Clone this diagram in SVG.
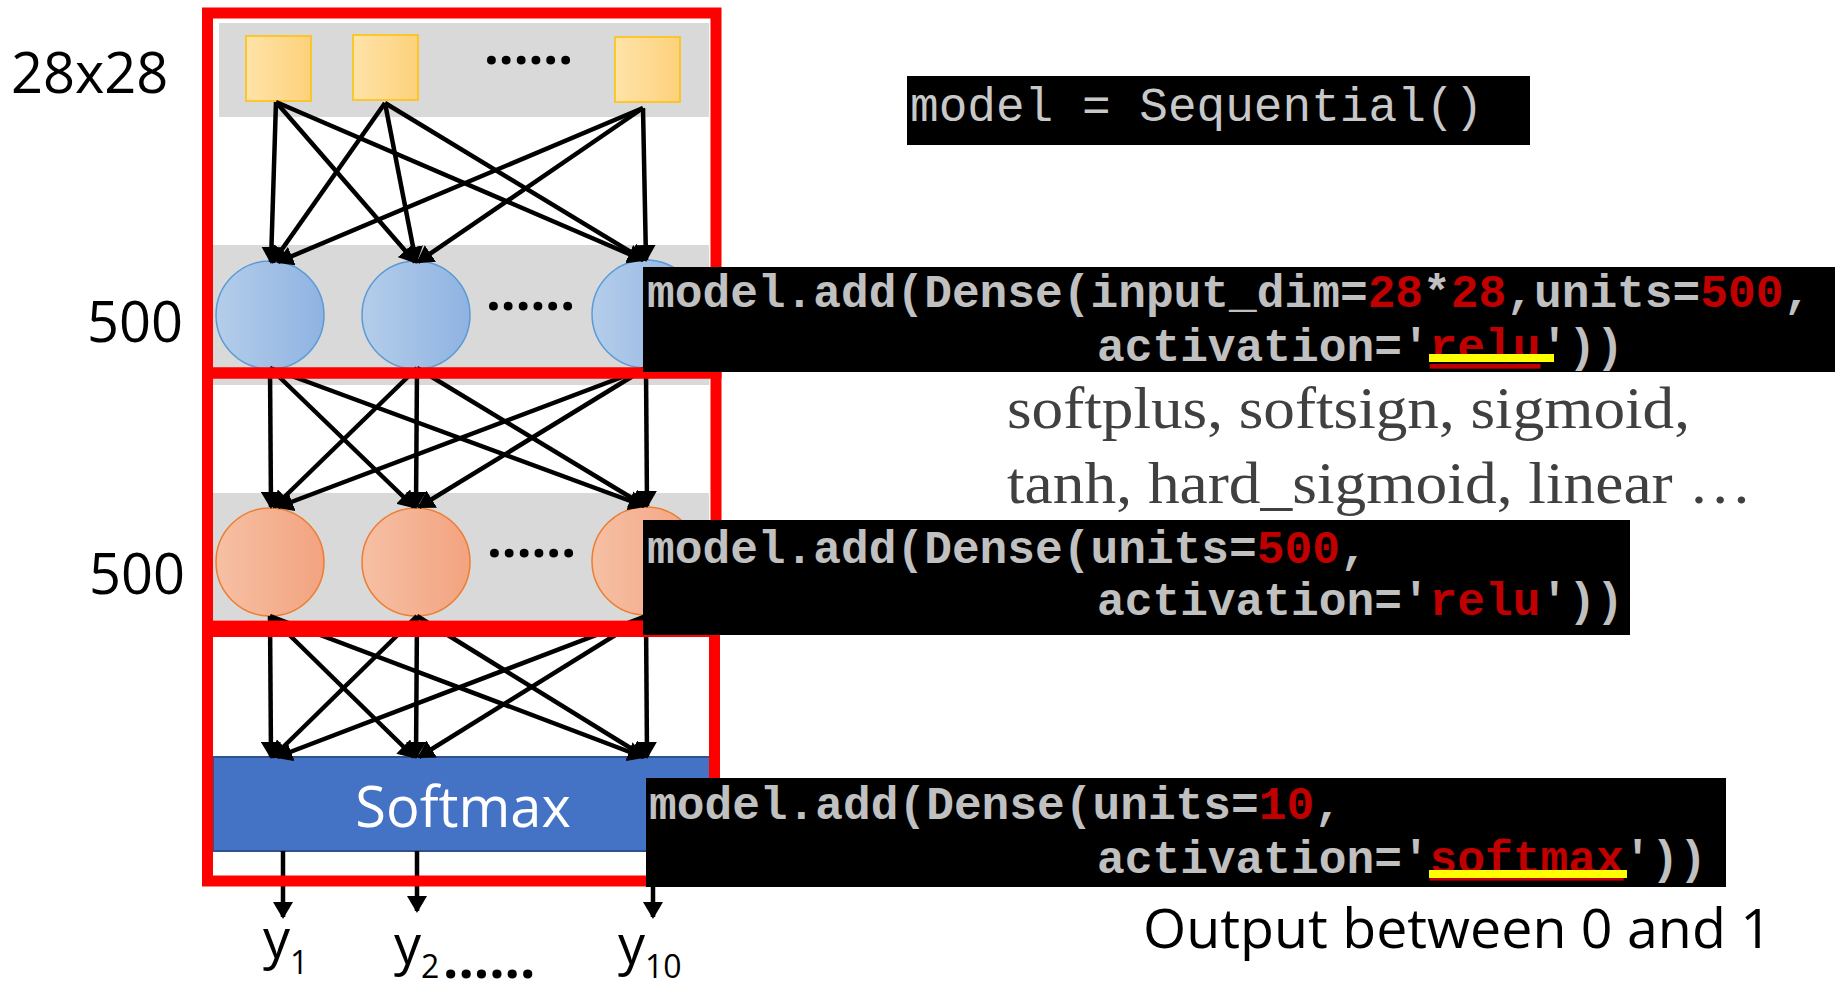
<svg xmlns="http://www.w3.org/2000/svg" width="1835" height="985" viewBox="0 0 1835 985">
<defs>
<linearGradient id="gy" x1="0" x2="1" y1="0" y2="0"><stop offset="0" stop-color="#FFE3A9"/><stop offset="1" stop-color="#FDD17B"/></linearGradient>
<linearGradient id="gb" x1="0" x2="1" y1="0" y2="0"><stop offset="0" stop-color="#B4CDEA"/><stop offset="1" stop-color="#8FB3E2"/></linearGradient>
<linearGradient id="go" x1="0" x2="1" y1="0" y2="0"><stop offset="0" stop-color="#F6C0A5"/><stop offset="1" stop-color="#F3A37F"/></linearGradient>
<marker id="ah" markerUnits="userSpaceOnUse" markerWidth="17" markerHeight="20" refX="15" refY="10" orient="auto" viewBox="0 0 17 20"><path d="M0,0 L17,10 L0,20 z" fill="#000"/></marker>
<style>
.band{fill:#D9D9D9}
.lbl{font-family:"Open Sans","Noto Sans",sans-serif;fill:#000}
.dots{font-family:"Open Sans","Noto Sans",sans-serif;font-weight:700;font-size:52px;fill:#000}
.conn line{stroke:#000;stroke-width:4.5;marker-end:url(#ah)}
.red{fill:none;stroke:#FF0000;stroke-width:11}
.sq{fill:url(#gy);stroke:#FFC000;stroke-width:1.5}
.cb{fill:url(#gb);stroke:#5B9BD5;stroke-width:1.5}
.co{fill:url(#go);stroke:#ED7D31;stroke-width:1.5}
.code{fill:#000}
.ct{font-family:"Liberation Mono","Courier New",monospace;font-size:46.2px;fill:#C0C0C0;font-weight:bold}
.num{fill:#C00000}
.serif{font-family:"Liberation Serif","Times New Roman",serif;font-size:60px;fill:#404040}
</style>
</defs>
<rect width="1835" height="985" fill="#FFFFFF"/>

<g id="input-layer">
<rect class="band" x="219" y="23" width="490" height="94"/>
<rect class="sq" x="246" y="36" width="65" height="65"/>
<rect class="sq" x="353" y="35" width="65" height="65"/>
<rect class="sq" x="615" y="37" width="65" height="65"/>
<text class="dots" x="484" y="64">......</text>
</g>

<g id="hidden-layer-1">
<rect class="band" x="213" y="245" width="496" height="140"/>
<circle class="cb" cx="270" cy="315" r="54"/>
<circle class="cb" cx="416" cy="315" r="54"/>
<circle class="cb" cx="646" cy="314" r="54"/>
<text class="dots" x="486" y="310">......</text>
</g>

<g id="hidden-layer-2">
<rect class="band" x="213" y="493" width="496" height="127"/>
<circle class="co" cx="270" cy="562" r="54"/>
<circle class="co" cx="416" cy="562" r="54"/>
<circle class="co" cx="646" cy="561" r="54"/>
<text class="dots" x="487" y="557">......</text>
</g>

<g id="softmax">
<rect x="213" y="757" width="497" height="94" fill="#4472C4" stroke="#2F528F" stroke-width="2"/>
<text class="lbl" x="463" y="827" font-size="56" text-anchor="middle" style="fill:#FFFFFF">Softmax</text>
</g>

<g id="connectors" class="conn">
<line x1="276" y1="102" x2="271" y2="262"/>
<line x1="276" y1="102" x2="415" y2="262"/>
<line x1="276" y1="102" x2="643" y2="260"/>
<line x1="385" y1="103" x2="273" y2="262"/>
<line x1="385" y1="103" x2="416" y2="262"/>
<line x1="385" y1="103" x2="644" y2="260"/>
<line x1="643" y1="108" x2="278" y2="262"/>
<line x1="643" y1="108" x2="418" y2="262"/>
<line x1="643" y1="108" x2="646" y2="260"/>

<line x1="270" y1="368" x2="271" y2="507"/>
<line x1="270" y1="368" x2="414" y2="507"/>
<line x1="270" y1="368" x2="644" y2="506"/>
<line x1="417" y1="368" x2="274" y2="507"/>
<line x1="417" y1="368" x2="416" y2="507"/>
<line x1="417" y1="368" x2="645" y2="506"/>
<line x1="646" y1="368" x2="278" y2="507"/>
<line x1="646" y1="368" x2="419" y2="507"/>
<line x1="646" y1="368" x2="647" y2="506"/>

<line x1="270" y1="616" x2="271" y2="757"/>
<line x1="270" y1="616" x2="414" y2="757"/>
<line x1="270" y1="616" x2="643" y2="757"/>
<line x1="417" y1="616" x2="273" y2="757"/>
<line x1="417" y1="616" x2="416" y2="757"/>
<line x1="417" y1="616" x2="645" y2="757"/>
<line x1="646" y1="616" x2="277" y2="757"/>
<line x1="646" y1="616" x2="419" y2="757"/>
<line x1="646" y1="616" x2="647" y2="757"/>

<line x1="283" y1="851" x2="283" y2="917"/>
<line x1="417" y1="851" x2="417" y2="911"/>
<line x1="653" y1="851" x2="653" y2="917"/>
</g>

<g id="layer-boxes">
<rect class="red" x="207.5" y="13" width="508.5" height="360"/>
<rect class="red" x="207.5" y="373" width="508.5" height="253"/>
<rect class="red" x="207.5" y="631.5" width="507" height="249.5"/>
</g>

<g id="labels">
<text class="lbl" x="11" y="93" font-size="56">28x28</text>
<text class="lbl" x="87" y="342" font-size="56">500</text>
<text class="lbl" x="89" y="594" font-size="56">500</text>
<text class="lbl" x="263" y="958" font-size="54">y<tspan font-size="32" dy="16">1</tspan></text>
<text class="lbl" x="394" y="964" font-size="54">y<tspan font-size="32" dy="14">2</tspan></text>
<text class="dots" x="443" y="978" style="font-size:54px">......</text>
<text class="lbl" x="618" y="964" font-size="54">y<tspan font-size="32" dy="14">10</tspan></text>
<text class="lbl" x="1143" y="948" font-size="55" textLength="629" lengthAdjust="spacingAndGlyphs">Output between 0 and 1</text>
</g>

<g id="activations">
<text class="serif" x="1007" y="428" textLength="683" lengthAdjust="spacingAndGlyphs">softplus, softsign, sigmoid,</text>
<text class="serif" x="1007" y="503" textLength="745" lengthAdjust="spacingAndGlyphs">tanh, hard_sigmoid, linear …</text>
</g>

<g id="code-sequential">
<rect class="code" x="907" y="76" width="623" height="69"/>
<text class="ct" x="910" y="121" style="font-weight:normal;font-size:47.75px;fill:#C8C8C8">model = Sequential()</text>
</g>

<g id="code-dense-1">
<rect class="code" x="643" y="267" width="1192" height="105"/>
<text class="ct" x="647" y="307">model.add(Dense(input_dim=<tspan class="num">28</tspan>*<tspan class="num">28</tspan>,units=<tspan class="num">500</tspan>,</text>
<text class="ct" x="1097" y="361">activation='<tspan class="num" text-decoration="underline">relu</tspan>'))</text>
<rect x="1429" y="354" width="125" height="8" fill="#FFFF00"/>
</g>

<g id="code-dense-2">
<rect class="code" x="643" y="520" width="987" height="115"/>
<text class="ct" x="647" y="563">model.add(Dense(units=<tspan class="num">500</tspan>,</text>
<text class="ct" x="1097" y="615">activation='<tspan class="num">relu</tspan>'))</text>
</g>

<g id="code-dense-3">
<rect class="code" x="646" y="778" width="1080" height="109"/>
<text class="ct" x="649" y="819">model.add(Dense(units=<tspan class="num">10</tspan>,</text>
<text class="ct" x="1097" y="873">activation='<tspan class="num" text-decoration="underline">softmax</tspan>'))</text>
<rect x="1429" y="870" width="198" height="8" fill="#FFFF00"/>
</g>
</svg>
